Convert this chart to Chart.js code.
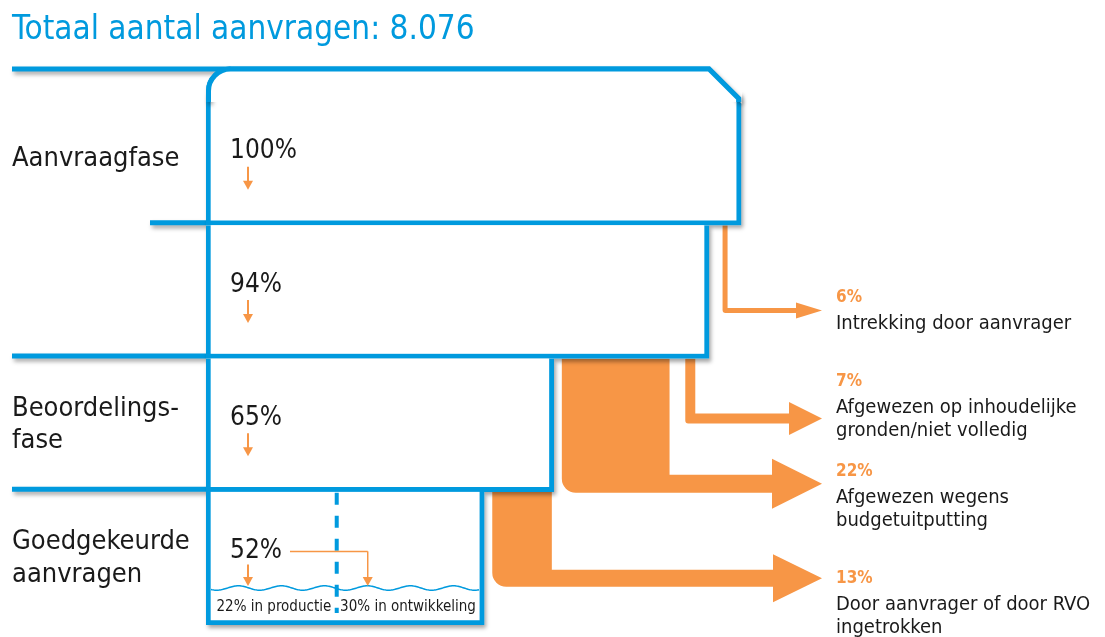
<!DOCTYPE html>
<html>
<head>
<meta charset="utf-8">
<script src="https://cdn.jsdelivr.net/npm/chart.js@4/dist/chart.umd.min.js"></script>
<style>
  html, body { margin: 0; padding: 0; background: #fff; }
  #wrap { width: 1105px; height: 637px; }
</style>
</head>
<body>
<div id="wrap"><canvas id="trechter"></canvas></div>
<script>
const FONT = '"DejaVu Sans Condensed", "DejaVu Sans", sans-serif';
const BLAUW = '#009ade';
const ORANJE = '#f79646';
const INKT = '#1a1a1a';

// data
const titel = 'Totaal aantal aanvragen: 8.076';
const fases = ['Aanvraagfase', '', ['Beoordelings-', 'fase'], ['Goedgekeurde', 'aanvragen']];
const fasePct = [100, 94, 65, 52];
const faseLabels = ['100%', '94%', '65%', '52%'];

const uitvalPct = [6, 7, 22, 13];
const uitvalVanRij = [0, 1, 1, 2];
const uitvalLabels = ['6%', '7%', '22%', '13%'];
const uitvalTekst = [
    ['Intrekking door aanvrager'],
    ['Afgewezen op inhoudelijke', 'gronden/niet volledig'],
    ['Afgewezen wegens', 'budgetuitputting'],
    ['Door aanvrager of door RVO', 'ingetrokken']
];

const splitPct = [22, 30];
const splitLabels = ['22% in productie', '30% in ontwikkeling'];

// opmaak (geen data)
const pijlHoogte = [0.64, 0.45, 0.94, 0.65];   // hoogte van de pijl binnen de volgende rij
const bandDikte = [5, 10, 18, 17];
const kopHoogte = [16, 33, 50, 48];
const kopLengte = [26, 33, 50, 49];
const tekstDy = [-13, -37, -12, 0];
const lijnStart = [12, 150, 12, 12];
const pijlPunt = 822;
const tekstX = 836;

function uitvalBereik() {
    let rest = fasePct.slice();
    return uitvalPct.map((p, i) => {
        let r = uitvalVanRij[i];
        let hi = rest[r];
        rest[r] = hi - p;
        return [hi - p, hi];
    });
}

function schaduw(ctx, aan) {
    ctx.shadowColor = aan ? 'rgba(0,0,0,0.35)' : 'rgba(0,0,0,0)';
    ctx.shadowBlur = aan ? 4 : 0;
    ctx.shadowOffsetX = aan ? 2 : 0;
    ctx.shadowOffsetY = aan ? 3 : 0;
}

function pijltje(ctx, x, y0, y1) {
    ctx.beginPath();
    ctx.moveTo(x, y0);
    ctx.lineTo(x, y1 - 8);
    ctx.stroke();
    ctx.beginPath();
    ctx.moveTo(x - 5, y1 - 9);
    ctx.lineTo(x + 5, y1 - 9);
    ctx.lineTo(x, y1);
    ctx.closePath();
    ctx.fill();
}

function tekenUitval(ctx, chart) {
    let x = chart.scales.x;
    let bars = chart.getDatasetMeta(0).data;
    let bereik = uitvalBereik();
    ctx.fillStyle = ORANJE;
    uitvalPct.forEach((p, i) => {
        let src = bars[uitvalVanRij[i]];
        let dst = bars[uitvalVanRij[i] + 1];
        let top = src.y + src.height / 2;
        let ay = dst.y - dst.height / 2 + pijlHoogte[i] * dst.height;
        let w = bandDikte[i];
        let [lo, hi] = bereik[i];
        let x0, x1, rad;
        if (p >= 10) {
            x0 = x.getPixelForValue(lo) + 8;
            x1 = x.getPixelForValue(hi) - 2;
            rad = 14;
        } else {
            let xm = x.getPixelForValue((lo + hi) / 2);
            x0 = xm - w / 2;
            x1 = xm + w / 2;
            rad = 3;
        }
        let bTop = ay - w / 2, bBot = ay + w / 2;
        let basis = pijlPunt - kopLengte[i];
        let hh = kopHoogte[i] / 2;
        ctx.beginPath();
        ctx.moveTo(x0, top);
        ctx.lineTo(x1, top);
        ctx.lineTo(x1, bTop);
        ctx.lineTo(basis, bTop);
        ctx.lineTo(basis, ay - hh);
        ctx.lineTo(pijlPunt, ay);
        ctx.lineTo(basis, ay + hh);
        ctx.lineTo(basis, bBot);
        ctx.lineTo(x0 + rad, bBot);
        ctx.arcTo(x0, bBot, x0, bBot - rad, rad);
        ctx.closePath();
        ctx.fill();

        // tekst rechts
        let ty = ay + tekstDy[i];
        ctx.textAlign = 'left';
        ctx.textBaseline = 'middle';
        ctx.font = `bold 17px ${FONT}`;
        ctx.fillText(uitvalLabels[i], tekstX, ty);
        ctx.fillStyle = INKT;
        ctx.font = `20px ${FONT}`;
        uitvalTekst[i].forEach((t, j) => ctx.fillText(t, tekstX, ty + 26 + j * 23));
        ctx.fillStyle = ORANJE;
    });
}

const trechterPlugin = {
    id: 'trechterPlugin',
    beforeDatasetsDraw(chart) {
        let ctx = chart.ctx;
        let x = chart.scales.x;
        let bars = chart.getDatasetMeta(0).data;
        let L = x.getPixelForValue(0);
        ctx.save();
        tekenUitval(ctx, chart);
        schaduw(ctx, true);
        ctx.strokeStyle = BLAUW;
        ctx.lineWidth = 5;
        bars.forEach((b, i) => {
            let top = b.y - b.height / 2;
            let y = i === 0 ? top - 23 : top - 2.5;
            let xe = i === 0 ? L + 2.5 + 22 : L + 3;
            ctx.beginPath();
            ctx.moveTo(lijnStart[i], y);
            ctx.lineTo(xe, y);
            ctx.stroke();
        });
        ctx.fillStyle = '#fff';
        bars.forEach(b => ctx.fillRect(b.base, b.y - b.height / 2, b.x - b.base, b.height));
        ctx.restore();
    },
    afterDatasetsDraw(chart) {
        let ctx = chart.ctx;
        let x = chart.scales.x;
        let bars = chart.getDatasetMeta(0).data;
        let L = x.getPixelForValue(0);
        ctx.save();

        // kap bovenop de eerste rij
        let b0 = bars[0];
        let top0 = b0.y - b0.height / 2;
        let capTop = top0 - 23;
        let xL = L + 2.5, xR = b0.x - 2.5;
        let xC = x.getPixelForValue(fasePct[1]);
        let r = 22;
        ctx.fillStyle = '#fff';
        ctx.beginPath();
        ctx.moveTo(xC + (top0 - capTop) - 3, top0 - 1);
        ctx.lineTo(b0.x + 1, top0 - 1);
        ctx.lineTo(b0.x + 1, capTop + (b0.x + 1 - xC) + 2);
        ctx.closePath();
        ctx.fill();
        let kap = () => {
            ctx.beginPath();
            ctx.moveTo(xL, top0 + 10);
            ctx.lineTo(xL, capTop + r);
            ctx.arcTo(xL, capTop, xL + r, capTop, r);
            ctx.lineTo(xC, capTop);
            ctx.lineTo(xR, capTop + (xR - xC));
            ctx.lineTo(xR, top0 + 10);
        };
        ctx.strokeStyle = BLAUW;
        ctx.lineWidth = 5;
        ctx.lineJoin = 'miter';
        schaduw(ctx, true);
        kap(); ctx.stroke();
        schaduw(ctx, false);
        kap(); ctx.closePath(); ctx.fill();
        kap(); ctx.stroke();

        // percentages in de balken
        ctx.textAlign = 'left';
        ctx.textBaseline = 'middle';
        ctx.font = `26px ${FONT}`;
        ctx.lineWidth = 2;
        ctx.strokeStyle = ORANJE;
        bars.forEach((b, i) => {
            let ty = b.y - 7;
            ctx.fillStyle = INKT;
            ctx.fillText(faseLabels[i], L + 24, ty);
            ctx.fillStyle = ORANJE;
            if (i < bars.length - 1) pijltje(ctx, L + 42, ty + 15, ty + 38);
        });

        // laatste rij: golf, scheiding en verdeling
        let b3 = bars[bars.length - 1];
        let top3 = b3.y - b3.height / 2;
        let bot3 = b3.y + b3.height / 2;
        let R3 = b3.x;
        let golfY = bot3 - 37;
        let xd = x.getPixelForValue(splitPct[0]) + 13;

        ctx.strokeStyle = BLAUW;
        ctx.lineWidth = 1.5;
        ctx.beginPath();
        for (let px = L + 5; px <= R3 - 5; px++) {
            let py = golfY + 2.2 * Math.sin((px - L) / 43 * 2 * Math.PI);
            if (px === L + 5) ctx.moveTo(px, py); else ctx.lineTo(px, py);
        }
        ctx.stroke();

        ctx.lineWidth = 4;
        ctx.setLineDash([12, 11]);
        ctx.beginPath();
        ctx.moveTo(xd, top3 + 1);
        ctx.lineTo(xd, bot3 - 12);
        ctx.stroke();
        ctx.setLineDash([]);

        ctx.fillStyle = INKT;
        ctx.font = `15px ${FONT}`;
        ctx.textAlign = 'center';
        ctx.fillText(splitLabels[0], (L + 5 + xd) / 2, bot3 - 18);
        ctx.fillText(splitLabels[1], (xd + R3 - 5) / 2, bot3 - 18);

        ctx.font = `26px ${FONT}`;
        ctx.textAlign = 'left';
        let ty = b3.y - 7;
        let tw = ctx.measureText(faseLabels[3]).width;
        ctx.strokeStyle = ORANJE;
        ctx.fillStyle = ORANJE;
        ctx.lineWidth = 1.5;
        let xb = xd + 31;
        ctx.beginPath();
        ctx.moveTo(L + 24 + tw + 8, ty);
        ctx.lineTo(xb, ty);
        ctx.stroke();
        pijltje(ctx, xb, ty, golfY - 2);
        ctx.lineWidth = 2;
        pijltje(ctx, L + 42, ty + 13, golfY - 2);

        ctx.restore();
    }
};

let grafiek = new Chart(document.querySelector('#trechter'), {
    type: 'bar',
    data: {
        labels: fases,
        datasets: [{
            data: fasePct,
            backgroundColor: '#ffffff',
            borderColor: BLAUW,
            borderWidth: 5,
            borderSkipped: () => 'top',
            categoryPercentage: 1,
            barPercentage: 1
        }]
    },
    options: {
        indexAxis: 'y',
        responsive: true,
        maintainAspectRatio: false,
        animation: false,
        events: [],
        layout: { padding: { left: 12, right: 0, top: 0, bottom: 12 } },
        scales: {
            x: { display: false, min: 0, max: 168 },
            y: {
                grid: { display: false },
                border: { display: false },
                ticks: {
                    crossAlign: 'far',
                    autoSkip: false,
                    padding: 0,
                    color: INKT,
                    font: { family: FONT, size: 27 }
                },
                afterFit(s) {
                    s.width = 194;
                    s.paddingTop = 0;
                    s.paddingBottom = 0;
                }
            }
        },
        plugins: {
            legend: { display: false },
            tooltip: { enabled: false },
            title: {
                display: true,
                text: titel,
                align: 'start',
                color: BLAUW,
                font: { family: FONT, size: 33, weight: 'normal' },
                padding: { top: 11, bottom: 41.4 }
            }
        }
    },
    plugins: [trechterPlugin]
});
</script>
</body>
</html>
